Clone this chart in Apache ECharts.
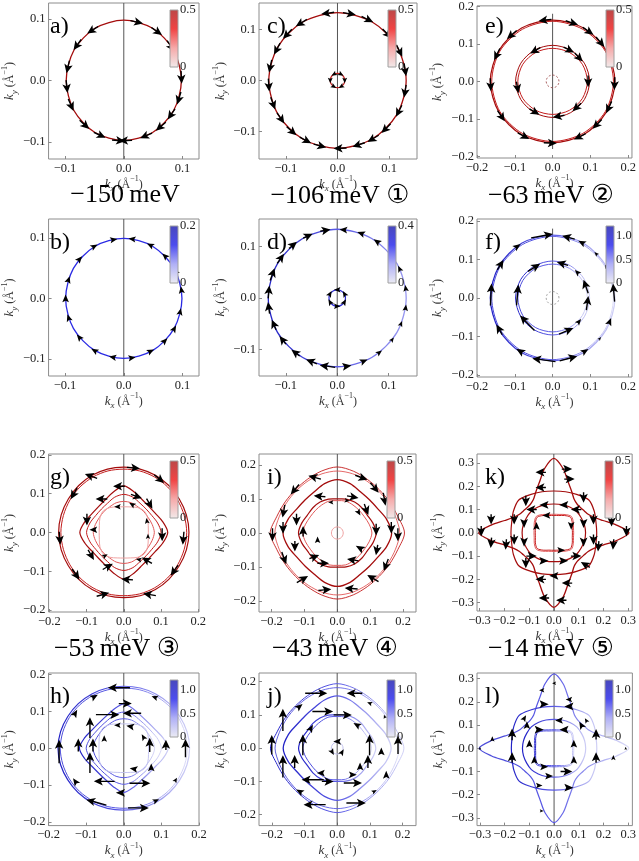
<!DOCTYPE html>
<html><head><meta charset="utf-8">
<script src="https://cdn.jsdelivr.net/npm/echarts@6/dist/echarts.min.js"></script>
<style>html,body{margin:0;padding:0;background:#fff}#c{width:639px;height:861px}</style>
</head><body><div id="c"></div>
<script>
// ===================== DATA =====================
const panelKeys = ['a','b','c','d','e','f','g','h','i','j','k','l'];
const energyLabels = ['\u2212150\u2009meV', '\u2212106\u2009meV \u2460', '\u221263\u2009meV \u2461',
                      '\u221253\u2009meV \u2462', '\u221243\u2009meV \u2463', '\u221214\u2009meV \u2464'];
const ticks_s = [-0.1, 0, 0.1];
const ticks_m = [-0.2, -0.1, 0, 0.1, 0.2];
const ticks_l = [-0.3, -0.2, -0.1, 0, 0.1, 0.2, 0.3];
const cbTicks_red = [0, 0.5];
const cbTicks_b = [0, 0.2];
const cbTicks_d = [0, 0.4];
const cbTicks_blue = [0, 0.5, 1.0];

// Contours: radius (Å^-1) read at equally spaced angles from 0° (+kx) to 90° (+ky); mirrored to the other quadrants
const contours_a = [[0.098,0.098,0.098,0.098]];
const contours_b = [[0.099,0.099,0.099,0.099]];
const contours_c = [[0.133,0.133,0.133,0.133],[0.014,0.014,0.014,0.014]];
const contours_d = [[0.134,0.134,0.134,0.134],[0.016,0.016,0.016,0.016]];
const contours_e = [[0.165,0.164,0.164,0.163],[0.161,0.161,0.160,0.160],[0.098,0.097,0.096,0.096],[0.092,0.091,0.089,0.088],[0.017,0.017,0.017,0.017]];
const contours_f = [[0.165,0.164,0.164,0.163],[0.161,0.161,0.160,0.160],[0.098,0.097,0.096,0.096],[0.092,0.091,0.089,0.088],[0.017,0.017,0.017,0.017]];
const contours_g = [[0.175,0.174,0.172,0.171,0.170,0.169,0.168],[0.169,0.168,0.167,0.166,0.165,0.164,0.163],
                    [0.118,0.108,0.098,0.095,0.098,0.108,0.120],[0.100,0.094,0.087,0.085,0.087,0.094,0.098],
                    [0.082,0.079,0.076,0.076,0.076,0.079,0.080],[0.066,0.068,0.074,0.078,0.074,0.068,0.066]];
const contours_h = [[0.175,0.174,0.172,0.171,0.170,0.169,0.168],[0.169,0.168,0.167,0.166,0.165,0.164,0.163],
                    [0.118,0.108,0.098,0.095,0.098,0.108,0.120],[0.100,0.094,0.087,0.085,0.087,0.094,0.098],
                    [0.082,0.079,0.076,0.076,0.076,0.079,0.080],[0.066,0.068,0.074,0.078,0.074,0.068,0.066]];
const contours_i = [[0.204,0.190,0.183,0.180,0.182,0.188,0.194],[0.190,0.183,0.178,0.176,0.177,0.180,0.182],
                    [0.165,0.155,0.142,0.138,0.140,0.150,0.157],[0.118,0.112,0.105,0.105,0.105,0.103,0.100],
                    [0.105,0.100,0.095,0.094,0.095,0.097,0.095],[0.018,0.018,0.018,0.018]];
const contours_j = [[0.204,0.190,0.183,0.180,0.182,0.188,0.194],[0.190,0.183,0.178,0.176,0.177,0.180,0.182],
                    [0.165,0.155,0.142,0.138,0.140,0.150,0.157],[0.118,0.112,0.105,0.105,0.105,0.103,0.100],
                    [0.105,0.100,0.095,0.094,0.095,0.097,0.095],[0.018,0.018,0.018,0.018]];
const contours_k = [[0.303,0.255,0.205,0.175,0.160,0.155,0.153,0.155,0.165,0.190,0.225,0.280,0.320],
                    [0.173,0.176,0.188,0.200,0.190,0.183,0.180],[0.128,0.128,0.128,0.130,0.128,0.126,0.124],
                    [0.075,0.077,0.086,0.095,0.086,0.077,0.075],[0.080,0.082,0.091,0.100,0.091,0.082,0.080]];
const contours_l = [[0.303,0.255,0.205,0.175,0.160,0.155,0.153,0.155,0.165,0.190,0.225,0.280,0.320],
                    [0.173,0.176,0.188,0.200,0.190,0.183,0.180],[0.128,0.128,0.128,0.130,0.128,0.126,0.124],
                    [0.075,0.077,0.086,0.095,0.086,0.077,0.075],[0.080,0.082,0.091,0.100,0.091,0.082,0.080]];

// Spin arrows: [kx, ky, direction (deg, counter-clockwise from +kx), in-plane magnitude]
const arrows_a = [[0.022,0.095,-13,0.5],[0.056,0.080,-35,0.5],[0.080,0.056,-55,0.5],[0.098,0.005,-87,0.5],[0.094,-0.029,-107,0.5],
  [0.081,-0.055,-124,0.5],[0.063,-0.075,-140,0.5],[0.038,-0.090,-157,0.5],[0.003,-0.098,-178,0.5],[-0.009,-0.098,-5,0.5],
  [-0.041,-0.089,-25,0.5],[-0.067,-0.072,-43,0.5],[-0.090,-0.040,-66,0.5],[-0.097,-0.010,-84,0.5],[-0.095,0.022,-103,0.5],
  [-0.079,0.058,-126,0.5],[-0.053,0.082,-147,0.5]];
const arrows_b = [[-0.017,0.097,10,0.28],[-0.050,0.086,30,0.28],[-0.075,0.065,49,0.28],[-0.094,0.031,72,0.28],[-0.099,0.0,90,0.3],
  [-0.094,-0.032,109,0.28],[-0.076,-0.064,130,0.28],[-0.050,-0.086,150,0.28],[-0.019,-0.097,169,0.28],[0.014,0.098,172,0.28],
  [0.045,0.088,153,0.28],[0.070,0.070,135,0.28],[0.088,0.045,117,0.28],[0.098,0.014,98,0.28],[0.096,-0.022,77,0.28],
  [0.086,-0.050,60,0.28],[0.070,-0.070,45,0.28],[0.046,-0.087,28,0.28],[0.014,-0.098,8,0.28]];
const arrows_c = [[0.023,0.131,-10,0.5],[0.058,0.120,-26,0.5],[0.096,0.092,-46,0.5],[0.120,0.058,-64,0.5],[0.131,0.021,-81,0.5],
  [0.131,-0.021,-99,0.5],[0.119,-0.060,-117,0.5],[0.094,-0.094,-135,0.5],[0.069,-0.114,-149,0.5],[0.041,-0.126,-162,0.5],
  [0.005,-0.133,-178,0.5],[-0.034,-0.128,-15,0.5],[-0.062,-0.117,-28,0.5],[-0.089,-0.099,-42,0.5],[-0.110,-0.074,-56,0.5],
  [-0.125,-0.045,-70,0.5],[-0.133,-0.009,-86,0.5],[-0.130,0.028,-102,0.5],[-0.117,0.062,-118,0.5],[-0.097,0.091,-133,0.5],
  [-0.070,0.113,-148,0.5],[-0.019,0.132,-172,0.5],
  [0.014,0.0,-90,0.22],[0.007,0.012,-30,0.22],[-0.007,0.012,-150,0.22],[-0.014,0.0,-90,0.22],[-0.007,-0.012,-30,0.22],[0.007,-0.012,-150,0.22]];
const arrows_d = [[0.012,0.133,175,0.3],[0.046,0.126,160,0.3],[0.077,0.110,145,0.3],[0.103,0.086,130,0.28],[0.121,0.057,115,0.25],
  [0.133,0.019,98,0.25],[0.133,-0.019,82,0.25],[0.124,-0.050,68,0.22],[0.107,-0.081,53,0.2],[0.082,-0.106,38,0.25],
  [0.052,-0.123,23,0.3],[0.019,-0.133,8,0.35],[-0.019,-0.133,172,0.6],[-0.050,-0.124,158,0.45],[-0.081,-0.107,143,0.4],
  [-0.106,-0.082,128,0.4],[-0.123,-0.052,113,0.42],[-0.133,-0.019,98,0.45],[-0.133,0.012,85,0.5],[-0.126,0.046,70,0.5],
  [-0.110,0.077,55,0.45],[-0.086,0.103,40,0.4],[-0.057,0.121,25,0.4],[-0.023,0.132,10,0.4],
  [0.014,0.008,120,0.25],[0.0,0.016,180,0.25],[-0.014,0.008,60,0.25],[-0.014,-0.008,120,0.25],[0.0,-0.016,0,0.25],[0.014,-0.008,60,0.25]];
const arrows_e = [[-0.020,0.163,-173,0.5],[-0.108,0.124,-139,0.5],[-0.147,0.072,-116,0.5],[-0.164,-0.009,-87,0.5],[-0.136,-0.092,-56,0.5],
  [-0.077,-0.145,-28,0.5],[-0.006,-0.164,-2,0.5],[0.051,0.156,-18,0.5],[0.094,0.134,-35,0.5],[0.126,0.105,-50,0.5],
  [0.154,0.056,-70,0.5],[0.164,-0.006,-92,0.5],[0.149,-0.069,-115,0.5],[0.118,-0.114,-134,0.5],[0.072,-0.147,-154,0.5],
  [-0.046,0.082,-151,0.45],[0.043,0.084,-27,0.45],[0.069,0.064,-47,0.45],[0.094,0.0,-90,0.45],[0.064,-0.069,-137,0.45],
  [0.016,-0.093,-170,0.45],[-0.048,-0.081,-31,0.45],[-0.093,-0.016,-80,0.45]];
const arrows_f = [[-0.028,0.161,10,0.85],[0.042,0.157,165,0.5],[0.077,0.144,152,0.3],[0.115,0.115,135,0.18],[0.141,0.082,120,0.15],
  [0.162,0.014,95,0.7],[0.151,-0.061,68,0.3],[0.125,-0.105,50,0.15],[0.086,-0.138,32,0.3],[0.042,-0.157,15,0.7],
  [-0.023,-0.161,172,0.9],[-0.086,-0.138,148,0.35],[-0.141,-0.082,120,0.45],[-0.163,0.009,87,0.85],[-0.138,0.086,58,0.45],
  [-0.093,0.134,35,0.3],
  [-0.049,0.079,32,0.55],[0.026,0.089,164,0.45],[0.065,0.067,136,0.25],[0.088,0.030,109,0.55],[0.092,-0.013,82,0.55],
  [0.070,-0.061,49,0.25],[0.036,-0.086,23,0.6],[-0.067,-0.065,134,0.8],[-0.093,0.008,85,0.8]];
const arrows_g = [[0.026,0.166,-5,0.5],[0.095,0.138,-40,0.5],[0.160,-0.015,-95,0.5],[0.136,-0.098,-125,0.5],[0.069,-0.160,170,0.5],
  [-0.056,-0.160,15,0.5],[-0.129,-0.108,-55,0.5],[-0.172,-0.015,-85,0.5],[-0.134,0.100,-120,0.5],[-0.088,0.145,160,0.5],
  [-0.013,0.119,180,0.45],[0.034,0.093,-20,0.45],[0.069,0.074,-60,0.45],[0.103,-0.006,-90,0.5],[0.062,-0.072,150,0.45],
  [0.009,-0.121,175,0.45],[-0.043,-0.088,30,0.45],[-0.088,-0.058,-60,0.45],[-0.099,0.033,-90,0.45],[-0.060,0.086,180,0.45],
  [-0.017,0.066,180,0.25],[0.022,0.072,150,0.25],[0.062,0.030,100,0.22],[-0.082,0.007,180,0.3],[-0.050,-0.060,30,0.22],
  [0.040,-0.070,170,0.22],[0.065,-0.010,90,0.2]];
const arrows_h = [[-0.013,0.164,180,0.85],[0.082,0.138,160,0.25],[-0.078,0.140,30,0.3],[-0.129,0.095,60,0.3],[-0.172,-0.009,90,0.9],
  [-0.129,-0.090,125,0.3],[-0.073,-0.147,165,0.8],[0.039,-0.162,0,0.8],[0.086,-0.142,25,0.25],[0.138,-0.086,60,0.2],
  [0.164,0.0,90,0.7],[0.130,0.100,130,0.15],
  [0.004,0.121,0,0.5],[-0.043,0.091,0,0.9],[0.022,0.095,180,0.7],[-0.090,0.056,90,0.8],[-0.121,0.009,90,0.5],
  [-0.082,0.009,90,0.5],[-0.090,-0.039,90,0.8],[-0.052,-0.090,180,0.8],[0.043,-0.095,0,0.8],[-0.009,-0.121,180,0.35],
  [0.069,0.009,90,0.55],[0.112,0.009,90,0.4],[0.052,0.030,120,0.25],[0.017,0.059,170,0.3],[-0.017,0.062,180,0.25],
  [-0.052,0.026,90,0.25],[0.026,-0.056,170,0.3],[0.073,-0.052,90,0.3]];
const arrows_i = [[-0.069,0.163,165,0.5],[0.073,0.163,-20,0.5],[0.113,0.133,-50,0.5],[0.143,0.099,-80,0.5],[0.184,-0.005,-90,0.5],
  [0.148,-0.094,-110,0.5],[0.108,-0.133,150,0.5],[0.042,-0.163,175,0.5],[-0.038,-0.167,5,0.5],[-0.106,-0.136,30,0.5],
  [-0.162,-0.074,-70,0.5],[-0.197,-0.005,-90,0.5],[-0.163,0.064,-100,0.5],[-0.129,0.128,-130,0.5],
  [-0.054,0.108,175,0.45],[0.047,0.106,-10,0.45],[0.088,0.069,-70,0.45],[0.118,0.010,-90,0.45],[0.164,0.015,-90,0.45],
  [0.068,-0.044,150,0.35],[0.047,-0.079,170,0.45],[-0.043,-0.089,0,0.45],[-0.124,0.039,-90,0.45],[-0.165,0.015,-90,0.45],
  [-0.104,0.005,90,0.4],[-0.129,-0.039,-90,0.4],[-0.070,-0.070,20,0.4],[0.120,-0.050,-100,0.4],
  [-0.020,0.090,180,0.2],[0.030,0.095,-10,0.2],[0.065,0.060,-60,0.25],[-0.060,-0.020,90,0.25]];
const arrows_j = [[-0.064,0.165,0,0.85],[0.053,0.165,180,0.6],[0.099,0.135,160,0.2],[0.145,0.095,110,0.15],[0.186,0.010,90,0.7],
  [0.150,-0.080,90,0.3],[0.114,-0.130,30,0.2],[0.058,-0.165,0,0.75],[-0.069,-0.170,180,0.85],[-0.115,-0.130,150,0.3],
  [-0.166,-0.055,90,0.85],[-0.200,0.010,90,0.75],[-0.166,0.085,90,0.85],[-0.115,0.125,40,0.3],
  [-0.044,0.110,0,0.8],[0.017,0.100,0,0.7],[0.099,0.010,90,0.8],[0.094,-0.040,90,0.5],[-0.105,0.010,90,0.8],
  [-0.130,-0.040,90,0.5],[-0.075,-0.095,180,0.85],[-0.029,-0.100,0,0.45],[0.048,-0.105,0,0.7],[0.048,-0.080,0,0.3],
  [0.135,-0.010,90,0.3],[0.070,-0.055,90,0.3],[-0.050,-0.075,180,0.3],[0.060,0.070,150,0.3],[-0.080,0.060,60,0.3],
  [0.0,0.020,180,0.3],[0.015,-0.012,60,0.25],[-0.015,-0.012,-60,0.25]];
const arrows_k = [[-0.053,0.260,180,0.4],[0.053,0.274,0,0.4],[0.063,0.231,0,0.4],[-0.053,0.195,180,0.4],[-0.113,0.137,-90,0.4],
  [0.120,0.152,-90,0.4],[-0.293,0.007,-90,0.4],[-0.253,-0.043,-95,0.4],[-0.193,-0.050,-95,0.4],[0.293,0.007,-90,0.4],
  [0.240,-0.050,-95,0.4],[0.180,-0.058,-95,0.4],[-0.253,0.058,-90,0.4],[0.233,0.050,-90,0.4],[-0.113,-0.130,-90,0.4],
  [0.127,-0.137,150,0.4],[-0.053,-0.200,180,0.4],[0.053,-0.216,180,0.4],[-0.040,-0.280,180,0.4],[0.030,-0.290,180,0.4],
  [-0.160,0.058,-90,0.4],[-0.160,-0.029,-90,0.4],[0.160,0.058,-90,0.4],[0.160,-0.029,-90,0.4],[-0.090,0.100,180,0.4],
  [0.090,0.100,180,0.4],[-0.090,-0.100,0,0.4],[0.090,-0.100,0,0.4],[0.0,-0.185,180,0.35],
  [-0.120,0.040,-90,0.35],[-0.120,-0.040,-90,0.35],[0.120,0.040,-90,0.35],[0.120,-0.040,-90,0.35],[-0.040,0.120,180,0.35],
  [0.040,0.120,180,0.35],[-0.040,-0.120,0,0.35],[0.040,-0.120,0,0.35],[-0.070,0.030,90,0.3],[0.070,0.030,-90,0.3],
  [-0.030,0.075,180,0.3],[0.030,-0.075,0,0.3]];
const arrows_l = [[0.0,0.280,180,0.15],[-0.050,0.250,180,0.2],[0.060,0.210,180,0.25],[-0.040,0.190,0,0.35],[0.060,0.180,180,0.35],
  [-0.120,0.130,60,0.25],[0.130,0.120,120,0.2],[-0.250,0.040,90,0.2],[-0.170,0.060,90,0.45],[0.170,0.060,90,0.4],
  [0.240,-0.040,90,0.2],[-0.170,-0.040,90,0.4],[0.170,-0.040,90,0.4],[-0.110,0.100,90,0.3],[0.110,0.100,120,0.3],
  [-0.060,0.080,0,0.35],[0.040,0.080,180,0.35],[-0.100,0.020,90,0.3],[0.080,0.020,90,0.3],[-0.080,-0.050,90,0.3],
  [0.080,-0.050,90,0.3],[-0.040,-0.080,0,0.3],[0.050,-0.100,0,0.45],[-0.060,-0.160,0,0.25],[0.060,-0.170,0,0.35],
  [-0.050,-0.270,0,0.15],[0.290,0.0,90,0.1],[-0.300,0.0,90,0.1],[0.020,0.120,180,0.3],[-0.020,-0.120,0,0.3]];

// ===================== STYLE / LAYOUT =====================
const SERIF = '"Liberation Serif","DejaVu Serif","DejaVu Sans","Noto Sans CJK JP",serif';
const RD = '#a40c0c', RM = '#c41c1c', RP = '#e25858', RL = '#f0a4a4';
function blueGrad(dark, light) {
  return new echarts.graphic.LinearGradient(0, 0, 1, 0, [
    {offset: 0, color: dark}, {offset: 0.5, color: '#5a5ae6'}, {offset: 1, color: light}]);
}
const BD = () => blueGrad('#1e1ec4', '#d6d6f6');
const BL = () => blueGrad('#4a4ad8', '#e2e2f8');
const contourStyles = {
  a: [{c: RD, w: 1.3}],
  b: [{c: '#2a2ae4', w: 1.3}],
  c: [{c: RD, w: 1.3}, {c: RM, w: 1.2}],
  d: [{c: blueGrad('#2222c4', '#9a9af0'), w: 1.3}, {c: '#2a2ad0', w: 1.2}],
  e: [{c: RD, w: 1.2}, {c: RM, w: 1}, {c: RD, w: 1}, {c: RM, w: 1}, {c: '#a05050', w: 0.9, dash: [2, 2]}],
  f: [{c: BD(), w: 1.2}, {c: BL(), w: 1}, {c: BD(), w: 1}, {c: BL(), w: 1}, {c: '#9a9a9a', w: 0.9, dash: [2, 2]}],
  g: [{c: RD, w: 1.2}, {c: RM, w: 1}, {c: RD, w: 1.2}, {c: RM, w: 1}, {c: RP, w: 1}, {c: RL, w: 1}],
  h: [{c: BD(), w: 1.2}, {c: BL(), w: 1}, {c: BD(), w: 1.2}, {c: BL(), w: 1}, {c: BL(), w: 1}, {c: '#c4c4f0', w: 1}],
  i: [{c: RM, w: 0.9}, {c: RP, w: 0.9}, {c: RD, w: 1.3}, {c: RD, w: 1.2}, {c: RP, w: 1}, {c: RL, w: 1}],
  j: [{c: BD(), w: 1}, {c: BL(), w: 0.9}, {c: BD(), w: 1.3}, {c: BD(), w: 1.2}, {c: BL(), w: 1}, {c: '#c4c4f0', w: 1}],
  k: [{c: RD, w: 1.3}, {c: RD, w: 1.2}, {c: RD, w: 1.2}, {c: RM, w: 1}, {c: RP, w: 1}],
  l: [{c: BL(), w: 1.2}, {c: BD(), w: 1.2}, {c: BD(), w: 1.2}, {c: BD(), w: 1}, {c: BL(), w: 1}]
};
const layout = {
  a: {g: [42, 3, 157, 156], x: [-0.128, 0.128], y: [-0.128, 0.126], t: ticks_s, cb: 'red', v: [-0.128, 0.126], yg: 28},
  b: {g: [42, 219, 157, 157], x: [-0.128, 0.128], y: [-0.128, 0.131], t: ticks_s, cb: 'b', v: [-0.128, 0.131], yg: 28},
  c: {g: [259, 3, 158, 156], x: [-0.152, 0.154], y: [-0.154, 0.152], t: ticks_s, cb: 'red', v: [-0.154, 0.152], yg: 28},
  d: {g: [259, 219, 158, 157], x: [-0.152, 0.155], y: [-0.152, 0.154], t: ticks_s, cb: 'd', v: [-0.152, 0.154], yg: 28},
  e: {g: [477, 3, 158, 155], x: [-0.2, 0.21], y: [-0.204, 0.201], t: ticks_m, cb: 'red', v: [-0.18, 0.18], yg: 30},
  f: {g: [477, 219, 158, 158], x: [-0.2, 0.21], y: [-0.205, 0.205], t: ticks_m, cb: 'blue', v: [-0.18, 0.18], yg: 30},
  g: {g: [42, 454, 157, 158], x: [-0.202, 0.202], y: [-0.205, 0.202], t: ticks_m, cb: 'red', v: [-0.205, 0.202], yg: 28},
  h: {g: [42, 673, 157, 157], x: [-0.2, 0.2], y: [-0.21, 0.204], t: ticks_m, cb: 'blue', v: [-0.21, 0.204], yg: 28},
  i: {g: [259, 454, 157, 158], x: [-0.238, 0.239], y: [-0.232, 0.232], t: ticks_m, cb: 'red', v: [-0.232, 0.232], yg: 28},
  j: {g: [259, 673, 157, 156], x: [-0.239, 0.241], y: [-0.233, 0.226], t: ticks_m, cb: 'blue', v: [-0.233, 0.226], yg: 28},
  k: {g: [477, 454, 157, 157], x: [-0.31, 0.316], y: [-0.336, 0.339], t: ticks_l, cb: 'red', v: [-0.336, 0.339], yg: 28},
  l: {g: [477, 673, 157, 156], x: [-0.312, 0.317], y: [-0.333, 0.324], t: ticks_l, cb: 'blue', v: [-0.333, 0.324], yg: 28}
};
const captionPos = [[125, 195], [340, 196], [551, 196], [117, 649], [335, 649], [551, 649]];

const dataSets = {
  a: [contours_a, arrows_a], b: [contours_b, arrows_b], c: [contours_c, arrows_c], d: [contours_d, arrows_d],
  e: [contours_e, arrows_e], f: [contours_f, arrows_f], g: [contours_g, arrows_g], h: [contours_h, arrows_h],
  i: [contours_i, arrows_i], j: [contours_j, arrows_j], k: [contours_k, arrows_k], l: [contours_l, arrows_l]
};
const cbDefs = {
  red: {ticks: cbTicks_red, max: 0.5, stops: ['#bb4848', '#f04444', '#f6aaaa', '#f2eaea']},
  b: {ticks: cbTicks_b, max: 0.2, stops: ['#4848bb', '#4c4cee', '#b0b0f6', '#ececf4']},
  d: {ticks: cbTicks_d, max: 0.4, stops: ['#4848bb', '#4c4cee', '#b0b0f6', '#ececf4']},
  blue: {ticks: cbTicks_blue, max: 1.2, stops: ['#4848bb', '#4c4cee', '#b0b0f6', '#ececf4']}
};

// ===================== BUILD =====================
function profileToXY(profile) {
  const n = profile.length, step = 90 / (n - 1), pol = [];
  for (let i = 0; i < n; i++) pol.push([i * step, profile[i]]);
  for (let i = n - 2; i >= 0; i--) pol.push([180 - i * step, profile[i]]);
  for (let i = 1; i < n; i++) pol.push([180 + i * step, profile[i]]);
  for (let i = n - 2; i >= 1; i--) pol.push([360 - i * step, profile[i]]);
  return pol.map(([t, r]) => [r * Math.cos(t * Math.PI / 180), r * Math.sin(t * Math.PI / 180)]);
}
function arrowSymbol(mag) {
  const L = Math.max(3, mag * 26), H = 9, W = 8.5, w = 1.4;
  if (L <= H + 1) {
    const Wh = W * L / (H + 1);
    return {path: `path://M0,0L${L.toFixed(2)},${(Wh / 2).toFixed(2)}L0,${Wh.toFixed(2)}L${(0.2 * L).toFixed(2)},${(Wh / 2).toFixed(2)}Z`, size: [L, Wh]};
  }
  const a = L - H, nn = L - 0.8 * H, y1 = W / 2 - w / 2, y2 = W / 2 + w / 2;
  return {path: `path://M0,${y1}L${nn},${y1}L${a},0L${L},${W / 2}L${a},${W}L${nn},${y2}L0,${y2}Z`, size: [L, W]};
}
const fmt = v => (v < 0 ? '\u2212' : '') + Math.abs(v).toFixed(1);
const nameRich = {
  i: {fontStyle: 'italic', fontSize: 13, fontFamily: SERIF, lineHeight: 18, verticalAlign: 'middle', color: '#333'},
  s: {fontStyle: 'italic', fontSize: 9, fontFamily: SERIF, lineHeight: 18, verticalAlign: 'bottom', color: '#333'},
  n: {fontSize: 12, fontFamily: SERIF, lineHeight: 18, verticalAlign: 'middle', color: '#333'},
  p: {fontSize: 8, fontFamily: SERIF, lineHeight: 18, verticalAlign: 'top', color: '#333'}
};

const grids = [], xAxes = [], yAxes = [], series = [], graphics = [];
panelKeys.forEach((key, gi) => {
  const L = layout[key], [left, top, width, height] = L.g;
  grids.push({left, top, width, height, show: true, borderColor: '#8c8c8c', borderWidth: 1, containLabel: false});
  const common = {
    gridIndex: gi, type: 'value', axisLine: {show: false, onZero: false}, splitLine: {show: false},
    axisTick: {show: true, inside: true, length: 3, lineStyle: {color: '#888'}, customValues: L.t},
    axisLabel: {customValues: L.t, formatter: fmt, fontFamily: SERIF, fontSize: 12.5, color: '#222', margin: 3},
    nameLocation: 'middle'
  };
  xAxes.push(Object.assign({}, common, {min: L.x[0], max: L.x[1], name: '{i|k}{s|x}{n| (Å}{p|\u22121}{n|)}',
    nameGap: 11, nameTextStyle: {rich: nameRich}}));
  yAxes.push(Object.assign({}, common, {min: L.y[0], max: L.y[1], name: '{i|k}{s|y}{n| (Å}{p|\u22121}{n|)}',
    nameGap: L.yg, nameRotate: 90, nameTextStyle: {rich: nameRich}}));

  const [contours, arrows] = dataSets[key];
  const pts = contours.map(profileToXY);
  const styles = contourStyles[key];
  // x = 0 reference line
  series.push({type: 'line', xAxisIndex: gi, yAxisIndex: gi, data: [[0, L.v[0]], [0, L.v[1]]], symbol: 'none',
    lineStyle: {color: '#555', width: 1}, silent: true, z: 1});
  // Fermi contours
  series.push({type: 'custom', xAxisIndex: gi, yAxisIndex: gi, silent: true, z: 2,
    data: contours.map((c, i) => [0, 0, i]),
    renderItem: (params, api) => {
      const idx = api.value(2), st = styles[idx];
      return {type: 'polygon', shape: {points: pts[idx].map(p => api.coord(p)), smooth: 0.3},
        style: {fill: 'none', stroke: st.c, lineWidth: st.w, lineDash: st.dash || null}};
    }});
  // spin arrows
  series.push({type: 'scatter', xAxisIndex: gi, yAxisIndex: gi, silent: true, z: 5,
    itemStyle: {color: '#000', opacity: 1},
    data: arrows.map(a => { const s = arrowSymbol(a[3]);
      return {value: [a[0], a[1]], symbol: s.path, symbolSize: s.size, symbolRotate: a[2]}; })});

  // colorbar
  const cb = cbDefs[L.cb];
  const bx = left + width - 29, by = top + 7, bw = 8, bh = 57;
  graphics.push({type: 'rect', shape: {x: bx, y: by, width: bw, height: bh}, z: 10,
    style: {fill: {type: 'linear', x: 0, y: 0, x2: 0, y2: 1, colorStops: cb.stops.map((c, i) => ({offset: i / 3, color: c}))},
      stroke: '#a0a0a0', lineWidth: 1}});
  cb.ticks.forEach(v => {
    graphics.push({type: 'text', x: bx + bw + 2, y: by + bh - v / cb.max * bh, z: 10,
      style: {text: v === 0 ? '0' : v.toFixed(1), font: `12.5px ${SERIF}`, fill: '#222', verticalAlign: 'middle', align: 'left'}});
  });
  // panel letter
  graphics.push({type: 'text', x: left + 8, y: top + 24, z: 10,
    style: {text: key + ')', font: `24px ${SERIF}`, fill: '#000', verticalAlign: 'middle', align: 'left'}});
});
energyLabels.forEach((t, i) => {
  graphics.push({type: 'text', x: captionPos[i][0], y: captionPos[i][1], z: 10,
    style: {text: t, font: `26px ${SERIF}`, fill: '#000', align: 'center', verticalAlign: 'middle'}});
});

const chart = echarts.init(document.getElementById('c'), null, {renderer: 'canvas'});
chart.setOption({animation: false, backgroundColor: '#fff', textStyle: {fontFamily: SERIF},
  grid: grids, xAxis: xAxes, yAxis: yAxes, series, graphic: {elements: graphics}});
</script></body></html>
